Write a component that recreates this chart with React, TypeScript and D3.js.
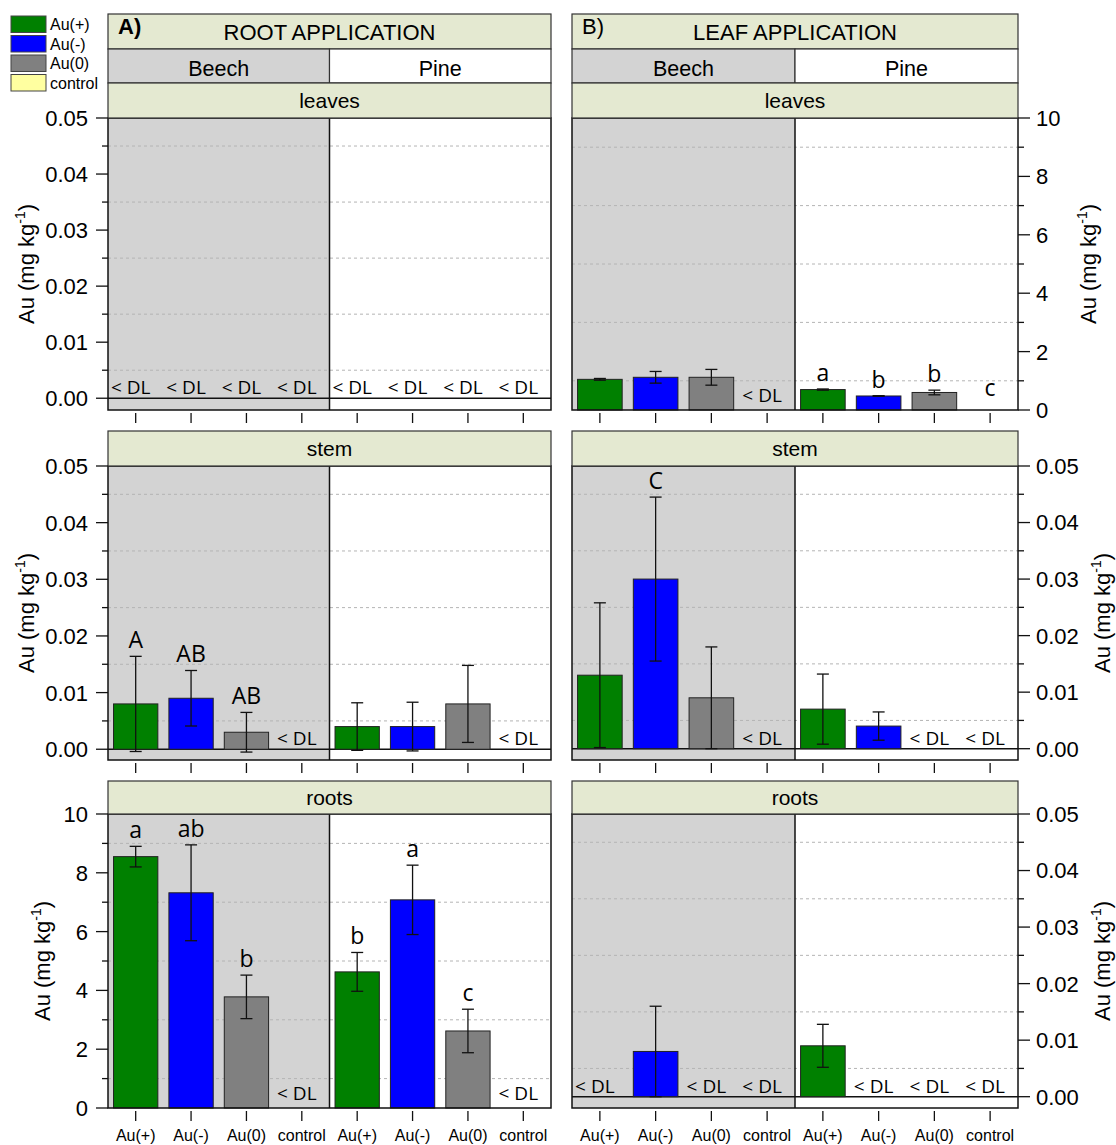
import React from "react";
import * as d3 from "d3";

// ---- data -------------------------------------------------------------
const categories = ["Au(+)", "Au(-)", "Au(0)", "control"];
const species = ["Beech", "Pine"];
const organs = ["leaves", "stem", "roots"];
const applications = ["ROOT APPLICATION", "LEAF APPLICATION"];
const panelTags = ["A)", "B)"];
const legendLabels = ["Au(+)", "Au(-)", "Au(0)", "control"];

// null = below detection limit (< DL), 0 = no bar but not flagged
// root application
const rootLeavesBeechMean = [null, null, null, null];
const rootLeavesBeechSd = [null, null, null, null];
const rootLeavesPineMean = [null, null, null, null];
const rootLeavesPineSd = [null, null, null, null];
const rootStemBeechMean = [0.008, 0.009, 0.003, null];
const rootStemBeechSd = [0.0084, 0.0049, 0.0035, null];
const rootStemBeechLetters = ["A", "AB", "AB", ""];
const rootStemPineMean = [0.004, 0.004, 0.008, null];
const rootStemPineSd = [0.0042, 0.0043, 0.0068, null];
const rootRootsBeechMean = [8.55, 7.32, 3.78, null];
const rootRootsBeechSd = [0.35, 1.63, 0.74, null];
const rootRootsBeechLetters = ["a", "ab", "b", ""];
const rootRootsPineMean = [4.63, 7.08, 2.62, null];
const rootRootsPineSd = [0.66, 1.18, 0.74, null];
const rootRootsPineLetters = ["b", "a", "c", ""];

// leaf application
const leafLeavesBeechMean = [1.05, 1.12, 1.12, null];
const leafLeavesBeechSd = [0.03, 0.2, 0.27, null];
const leafLeavesPineMean = [0.7, 0.48, 0.6, 0];
const leafLeavesPineSd = [0.02, 0.01, 0.08, 0];
const leafLeavesPineLetters = ["a", "b", "b", "c"];
const leafStemBeechMean = [0.013, 0.03, 0.009, null];
const leafStemBeechSd = [0.0128, 0.0145, 0.009, null];
const leafStemBeechLetters = ["", "C", "", ""];
const leafStemPineMean = [0.007, 0.004, null, null];
const leafStemPineSd = [0.0062, 0.0025, null, null];
const leafRootsBeechMean = [null, 0.008, null, null];
const leafRootsBeechSd = [null, 0.008, null, null];
const leafRootsPineMean = [0.009, null, null, null];
const leafRootsPineSd = [0.0038, null, null, null];

const empty = ["", "", "", ""];

// ---- layout -----------------------------------------------------------
const W = 1116;
const H = 1145;
const colors = ["#008000", "#0000ff", "#808080", "#ffffa0"];
const stripFill = "#e4e9d1";
const beechFill = "#d3d3d3";
const axisFont = "'Liberation Sans', Arial, sans-serif";
const noteFont = "'Open Sans', 'Liberation Sans', sans-serif";

const cols = [
  { x0: 108, x1: 551, side: "left" },
  { x0: 572, x1: 1018, side: "right" },
];
const rows = [
  { strip: 83, top: 118, bottom: 410 },
  { strip: 431, top: 466, bottom: 760 },
  { strip: 781, top: 814, bottom: 1108 },
];

type Group = { mean: (number | null)[]; sd: (number | null)[]; letters: string[] };
type Panel = { beech: Group; pine: Group; domain: [number, number]; step: number };

const panels: Panel[][] = [
  [
    {
      beech: { mean: rootLeavesBeechMean, sd: rootLeavesBeechSd, letters: empty },
      pine: { mean: rootLeavesPineMean, sd: rootLeavesPineSd, letters: empty },
      domain: [-0.0021, 0.05],
      step: 0.01,
    },
    {
      beech: { mean: rootStemBeechMean, sd: rootStemBeechSd, letters: rootStemBeechLetters },
      pine: { mean: rootStemPineMean, sd: rootStemPineSd, letters: empty },
      domain: [-0.0019, 0.05],
      step: 0.01,
    },
    {
      beech: { mean: rootRootsBeechMean, sd: rootRootsBeechSd, letters: rootRootsBeechLetters },
      pine: { mean: rootRootsPineMean, sd: rootRootsPineSd, letters: rootRootsPineLetters },
      domain: [0, 10],
      step: 2,
    },
  ],
  [
    {
      beech: { mean: leafLeavesBeechMean, sd: leafLeavesBeechSd, letters: empty },
      pine: { mean: leafLeavesPineMean, sd: leafLeavesPineSd, letters: leafLeavesPineLetters },
      domain: [0, 10],
      step: 2,
    },
    {
      beech: { mean: leafStemBeechMean, sd: leafStemBeechSd, letters: leafStemBeechLetters },
      pine: { mean: leafStemPineMean, sd: leafStemPineSd, letters: empty },
      domain: [-0.002, 0.05],
      step: 0.01,
    },
    {
      beech: { mean: leafRootsBeechMean, sd: leafRootsBeechSd, letters: empty },
      pine: { mean: leafRootsPineMean, sd: leafRootsPineSd, letters: empty },
      domain: [-0.002, 0.05],
      step: 0.01,
    },
  ],
];

const keys = species.flatMap((s) => categories.map((c) => `${s}|${c}`));

const YTitle = ({ x, y }: { x: number; y: number }) => (
  <text
    transform={`translate(${x},${y}) rotate(-90)`}
    textAnchor="middle"
    fontFamily={axisFont}
    fontSize={22}
  >
    Au (mg kg
    <tspan dy={-9} fontSize={14}>
      -1
    </tspan>
    <tspan dy={9}>)</tspan>
  </text>
);

function PanelView({ ci, ri }: { ci: number; ri: number }) {
  const col = cols[ci];
  const row = rows[ri];
  const p = panels[ci][ri];
  const x = d3.scaleBand<string>().domain(keys).range([col.x0, col.x1]).paddingInner(0.2).paddingOuter(0.1);
  const y = d3.scaleLinear().domain(p.domain).range([row.bottom, row.top]);
  const hi = p.domain[1];
  const majors = d3.range(0, hi + p.step / 10, p.step);
  const minors = d3.range(p.step / 2, hi, p.step);
  const fmt = p.step < 1 ? d3.format(".2f") : d3.format("d");
  const mid = col.x0 + x.step() * 4;
  const left = col.side === "left";
  const y0 = y(0);
  const short = hi === 10;

  const items = species.flatMap((s, si) => {
    const g = si === 0 ? p.beech : p.pine;
    return categories.map((c, k) => ({
      key: `${s}|${c}`,
      k,
      mean: g.mean[k],
      sd: g.sd[k] ?? 0,
      letter: g.letters[k],
    }));
  });

  return (
    <g>
      <rect x={col.x0} y={row.top} width={mid - col.x0} height={row.bottom - row.top} fill={beechFill} />
      {minors.map((v) => (
        <line
          key={`g${v}`}
          x1={col.x0}
          x2={col.x1}
          y1={y(v)}
          y2={y(v)}
          stroke="#b4b4b4"
          strokeWidth={1}
          strokeDasharray="3,3"
        />
      ))}
      {p.domain[0] < 0 && <line x1={col.x0} x2={col.x1} y1={y0} y2={y0} stroke="#111" strokeWidth={1.5} />}
      {items
        .filter((d) => d.mean != null && d.mean > 0)
        .map((d) => (
          <rect
            key={`b${d.key}`}
            x={x(d.key)}
            width={x.bandwidth()}
            y={y(d.mean as number)}
            height={y0 - y(d.mean as number)}
            fill={colors[d.k]}
            stroke="#222"
            strokeWidth={1}
          />
        ))}
      {items
        .filter((d) => d.mean != null && d.mean > 0 && d.sd > 0)
        .map((d) => {
          const cx = (x(d.key) as number) + x.bandwidth() / 2;
          const yt = y((d.mean as number) + d.sd);
          const yb = y((d.mean as number) - d.sd);
          return (
            <g key={`e${d.key}`} stroke="#111" strokeWidth={1.3}>
              <line x1={cx} x2={cx} y1={yt} y2={yb} />
              <line x1={cx - 6} x2={cx + 6} y1={yt} y2={yt} />
              <line x1={cx - 6} x2={cx + 6} y1={yb} y2={yb} />
            </g>
          );
        })}
      {items.map((d) => {
        const cx = (x(d.key) as number) + x.bandwidth() / 2;
        if (d.mean == null) {
          return (
            <text
              key={`dl${d.key}`}
              x={cx - 5}
              y={y0 - (p.domain[0] < 0 ? 4 : 8)}
              textAnchor="middle"
              fontFamily={noteFont}
              fontSize={19}
            >
              {"< DL"}
            </text>
          );
        }
        if (!d.letter) return null;
        const ly = d.mean > 0 ? y(d.mean + d.sd) - 8 : y0 - 14;
        return (
          <text key={`l${d.key}`} x={cx} y={ly} textAnchor="middle" fontFamily={noteFont} fontSize={23}>
            {d.letter}
          </text>
        );
      })}
      <line x1={mid} x2={mid} y1={row.top} y2={row.bottom} stroke="#111" strokeWidth={1.5} />
      <rect
        x={col.x0}
        y={row.top}
        width={col.x1 - col.x0}
        height={row.bottom - row.top}
        fill="none"
        stroke="#111"
        strokeWidth={1.5}
      />
      {/* y axis */}
      {majors.map((v) => (
        <g key={`t${v}`}>
          <line
            x1={left ? col.x0 - 12 : col.x1}
            x2={left ? col.x0 : col.x1 + 12}
            y1={y(v)}
            y2={y(v)}
            stroke="#111"
            strokeWidth={1.3}
          />
          <text
            x={left ? col.x0 - 20 : col.x1 + 18}
            y={y(v)}
            dy="0.36em"
            textAnchor={left ? "end" : "start"}
            fontFamily={axisFont}
            fontSize={22}
          >
            {fmt(v)}
          </text>
        </g>
      ))}
      {minors.map((v) => (
        <line
          key={`m${v}`}
          x1={left ? col.x0 - 6 : col.x1}
          x2={left ? col.x0 : col.x1 + 6}
          y1={y(v)}
          y2={y(v)}
          stroke="#111"
          strokeWidth={1.3}
        />
      ))}
      <YTitle
        x={left ? (short ? 50 : 34) : short ? 1096 : 1110}
        y={(row.top + row.bottom) / 2}
      />
      {/* x ticks */}
      {keys.map((k) => {
        const cx = (x(k) as number) + x.bandwidth() / 2;
        return <line key={`x${k}`} x1={cx} x2={cx} y1={row.bottom + 3} y2={row.bottom + 13} stroke="#111" strokeWidth={1.3} />;
      })}
      {ri === rows.length - 1 &&
        keys.map((k) => {
          const cx = (x(k) as number) + x.bandwidth() / 2;
          return (
            <text key={`c${k}`} x={cx} y={1141} textAnchor="middle" fontFamily={axisFont} fontSize={16}>
              {k.split("|")[1]}
            </text>
          );
        })}
      {/* organ strip */}
      <rect
        x={col.x0}
        y={row.strip}
        width={col.x1 - col.x0}
        height={row.top - row.strip}
        fill={stripFill}
        stroke="#333"
        strokeWidth={1.2}
      />
      <text
        x={(col.x0 + col.x1) / 2}
        y={(row.strip + row.top) / 2 + 7.5}
        textAnchor="middle"
        fontFamily={axisFont}
        fontSize={21}
      >
        {organs[ri]}
      </text>
    </g>
  );
}

function Header({ ci }: { ci: number }) {
  const col = cols[ci];
  const mid = col.x0 + (col.x1 - col.x0) / 2;
  return (
    <g fontFamily={axisFont}>
      <rect x={col.x0} y={14} width={col.x1 - col.x0} height={35} fill={stripFill} stroke="#333" strokeWidth={1.2} />
      <text x={col.x0 + 10} y={34} fontSize={22} fontWeight={ci === 0 ? "bold" : "normal"}>
        {panelTags[ci]}
      </text>
      <text x={mid} y={40} textAnchor="middle" fontSize={22}>
        {applications[ci]}
      </text>
      <rect x={col.x0} y={49} width={mid - col.x0} height={34} fill={beechFill} stroke="#333" strokeWidth={1.2} />
      <rect x={mid} y={49} width={col.x1 - mid} height={34} fill="#fff" stroke="#333" strokeWidth={1.2} />
      {species.map((s, i) => (
        <text
          key={s}
          x={i === 0 ? (col.x0 + mid) / 2 : (mid + col.x1) / 2}
          y={76}
          textAnchor="middle"
          fontSize={21.5}
        >
          {s}
        </text>
      ))}
    </g>
  );
}

function Legend() {
  return (
    <g fontFamily={axisFont}>
      {legendLabels.map((l, i) => (
        <g key={l}>
          <rect x={11} y={16 + i * 19.5} width={35} height={16.5} fill={colors[i]} stroke="#444" strokeWidth={1} />
          <text x={50} y={30 + i * 19.5} fontSize={16}>
            {l}
          </text>
        </g>
      ))}
    </g>
  );
}

export default function App() {
  return (
    <svg
      width={W}
      height={H}
      viewBox={`0 0 ${W} ${H}`}
      style={{ position: "absolute", left: 0, top: 0, display: "block", background: "#fff" }}
    >
      <rect width={W} height={H} fill="#fff" />
      <Legend />
      {cols.map((_, ci) => (
        <g key={ci}>
          <Header ci={ci} />
          {rows.map((_, ri) => (
            <PanelView key={ri} ci={ci} ri={ri} />
          ))}
        </g>
      ))}
    </svg>
  );
}
